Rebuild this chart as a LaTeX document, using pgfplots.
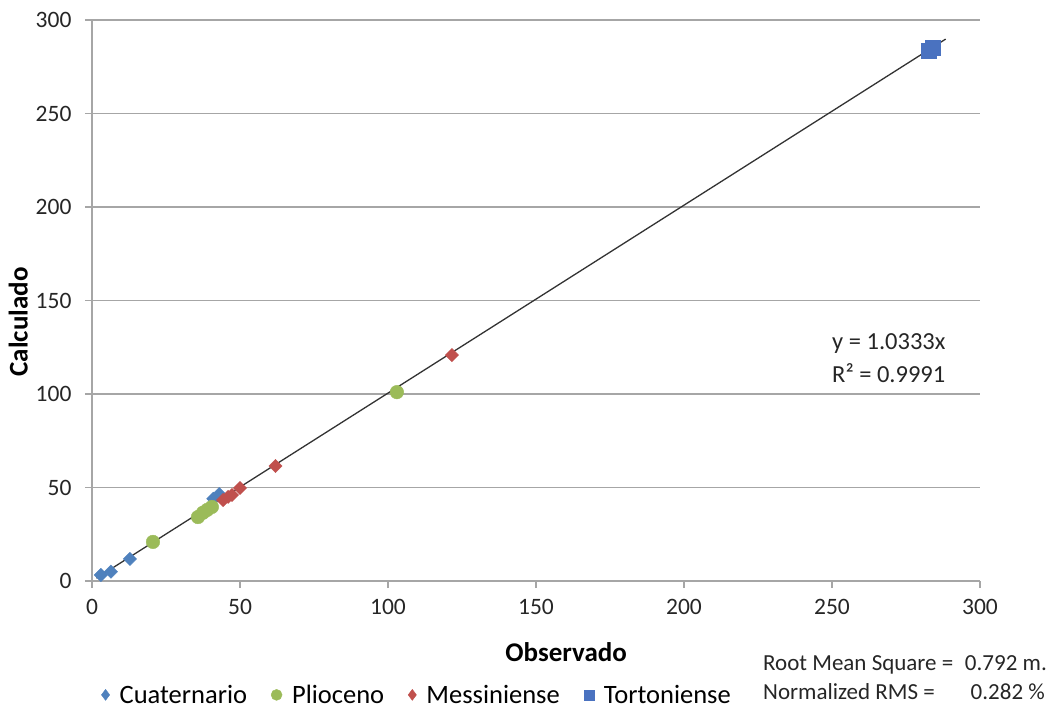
\documentclass[border=0pt]{standalone}
\usepackage{fontspec}
\setmainfont{Carlito}
\usepackage{pgfplots}
\pgfplotsset{compat=1.18}
\definecolor{cblue}{HTML}{4F81BD}
\definecolor{cgreen}{HTML}{9BBB59}
\definecolor{cred}{HTML}{C0504D}
\definecolor{csq}{HTML}{4A72C0}
\definecolor{gridc}{HTML}{A6A6A6}
\begin{document}
\begin{tikzpicture}
\begin{axis}[
 at={(0pt,0pt)}, anchor=south west,
 scale only axis, width=888pt, height=561pt,
 xmin=0, xmax=300, ymin=0, ymax=300,
 xtick={0,50,...,300}, ytick={0,50,...,300},
 ymajorgrids, grid style={gridc, line width=1.2pt},
 axis x line*=bottom, axis y line*=left,
 axis line style={gridc, line width=1.2pt},
 tick style={gridc, line width=1.2pt}, tick align=outside, major tick length=7pt,
 ticklabel style={font=\fontsize{23.5}{27}\selectfont, text=black!85},
 xticklabel style={yshift=-8pt},
 yticklabel style={xshift=-10pt},
 /pgf/number format/assume math mode=true,
 xlabel={Observado}, ylabel={Calculado},
 label style={font=\fontsize{27}{31}\selectfont\bfseries},
 xlabel style={at={(axis description cs:0.534,-0.127)}, anchor=center},
 ylabel style={at={(axis description cs:-0.083,0.462)}, anchor=center},
 legend style={draw=none, fill=none, at={(axis description cs:0.007,-0.203)}, anchor=west,
   font=\fontsize{26.5}{30}\selectfont, legend cell align=left,
   /tikz/every odd column/.append style={column sep=8pt},
   /tikz/every even column/.append style={column sep=22pt}},
 legend columns=4,
]
\addplot[forget plot, black!80, line width=1.3pt] coordinates {(1.5,1.5) (288.4,289.8)};
\addplot[only marks, mark=square*, mark size=4.7pt, mark options={rotate=45, fill=cblue, draw=cblue},
 legend image code/.code={\draw[mark=diamond*, mark size=5.5pt, mark options={fill=cblue, draw=cblue}] plot coordinates {(0.3cm,0cm)};}]
 coordinates {(3,3.2) (6.4,5) (12.8,11.8) (41,44) (43,46.5)};
\addlegendentry{Cuaternario}
\addplot[only marks, mark=*, mark size=6.8pt, mark options={fill=cgreen, draw=cgreen},
 legend image code/.code={\draw[mark=*, mark size=5.5pt, mark options={fill=cgreen, draw=cgreen}] plot coordinates {(0.3cm,0cm)};}]
 coordinates {(20.6,20.9) (35.8,34.2) (37.5,36.5) (38.9,38) (40.5,39.6) (103,101)};
\addlegendentry{Plioceno}
\addplot[only marks, mark=square*, mark size=4.7pt, mark options={rotate=45, fill=cred, draw=cred},
 legend image code/.code={\draw[mark=diamond*, mark size=5.5pt, mark options={fill=cred, draw=cred}] plot coordinates {(0.3cm,0cm)};}]
 coordinates {(44.3,43.3) (46,45) (47.3,46) (50,49.7) (62,61.5) (121.6,120.8)};
\addlegendentry{Messiniense}
\addplot[only marks, mark=square*, mark size=7.5pt, mark options={fill=csq, draw=csq},
 legend image code/.code={\draw[mark=square*, mark size=5pt, mark options={fill=csq, draw=csq}] plot coordinates {(0.3cm,0cm)};}]
 coordinates {(282.5,283.5) (284,285)};
\addlegendentry{Tortoniense}
\end{axis}
\node[anchor=base west, font=\fontsize{24.5}{28}\selectfont, text=black!85, inner sep=0pt] at (740pt,231pt) {y = 1.0333x};
\node[anchor=base west, font=\fontsize{24.5}{28}\selectfont, text=black!85, inner sep=0pt] at (740pt,198pt) {R² = 0.9991};
\node[anchor=base west, font=\fontsize{23}{27}\selectfont, text=black!85, inner sep=0pt] at (671pt,-90pt) {Root Mean Square =};
\node[anchor=base east, font=\fontsize{23}{27}\selectfont, text=black!85, inner sep=0pt] at (955pt,-90pt) {0.792 m.};
\node[anchor=base west, font=\fontsize{23}{27}\selectfont, text=black!85, inner sep=0pt] at (671pt,-119pt) {Normalized RMS =};
\node[anchor=base east, font=\fontsize{23}{27}\selectfont, text=black!85, inner sep=0pt] at (953pt,-119pt) {0.282 \%};
\pgfresetboundingbox
\path[use as bounding box] (-92pt,-128pt) rectangle (963pt,581pt);
\end{tikzpicture}
\end{document}
